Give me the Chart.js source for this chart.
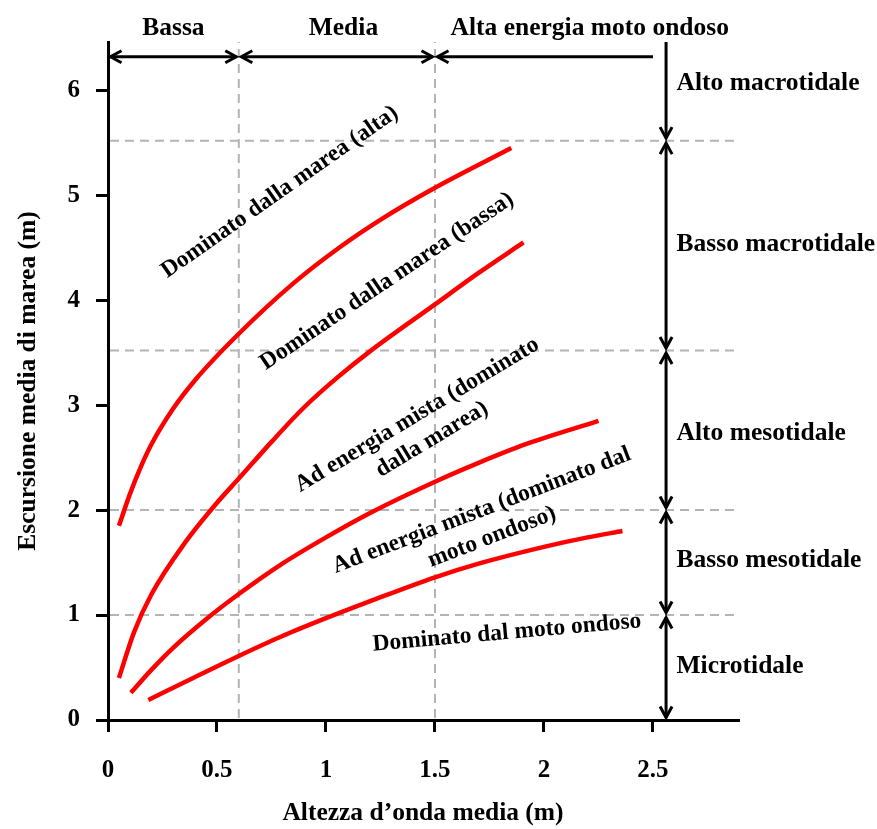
<!DOCTYPE html>
<html><head><meta charset="utf-8">
<script src="https://cdn.jsdelivr.net/npm/chart.js@4.4.1/dist/chart.umd.min.js"></script>
<style>html,body{margin:0;padding:0;background:#fff}canvas{display:block}</style>
</head><body>
<canvas id="c" width="877" height="829"></canvas>
<script>
const FONT = '"Liberation Serif", "Times New Roman", serif';

// ---- axes ----
const xTicks = [0, 0.5, 1, 1.5, 2, 2.5];
const yTicks = [0, 1, 2, 3, 4, 5, 6];
const xMax = 2.89, yMax = 6.46;
const xTitle = 'Altezza d\u2019onda media (m)';
const yTitle = 'Escursione media di marea (m)';

// ---- curves (x = wave height, y = tidal range) ----
const altaX = [0.05, 0.1, 0.15, 0.2, 0.3, 0.4, 0.6, 0.85, 1.06, 1.26, 1.49, 1.85];
const altaY = [1.85, 2.15, 2.41, 2.63, 2.97, 3.24, 3.68, 4.16, 4.5, 4.78, 5.06, 5.45];
const bassaX = [0.05, 0.12, 0.2, 0.35, 0.5, 0.6, 0.75, 0.9, 1.05, 1.2, 1.5, 1.7, 1.906];
const bassaY = [0.40, 0.84, 1.2, 1.68, 2.07, 2.3, 2.65, 2.98, 3.26, 3.51, 3.96, 4.26, 4.55];
const mistaMareaX = [0.105, 0.2, 0.3, 0.45, 0.6, 0.8, 1.0, 1.2, 1.5, 1.7, 1.92, 2.25];
const mistaMareaY = [0.26, 0.48, 0.69, 0.96, 1.2, 1.49, 1.74, 1.97, 2.27, 2.45, 2.63, 2.85];
const mistaOndaX = [0.185, 0.4, 0.6, 0.8, 1.0, 1.2, 1.5, 1.7, 2.0, 2.2, 2.36];
const mistaOndaY = [0.19, 0.41, 0.61, 0.80, 0.97, 1.13, 1.36, 1.49, 1.65, 1.74, 1.80];

// ---- zones ----
const waveZoneBounds = [0, 0.6, 1.5, 2.5];
const waveZoneLabels = ['Bassa', 'Media', 'Alta energia moto ondoso'];
const waveZoneLabelX = [0.3, 1.08, 2.21];
const waveArrowY = 6.32, waveLabelY = 6.59;
const tideZoneBounds = [0, 1, 2, 3.52, 5.52, 6.46];
const tideZoneLabels = ['Microtidale', 'Basso mesotidale', 'Alto mesotidale', 'Basso macrotidale', 'Alto macrotidale'];
const tideZoneLabelY = [0.51, 1.52, 2.73, 4.53, 6.07];
const tideArrowX = 2.56, tideLabelX = 2.608;
const waveGuides = [0.6, 1.5];
const tideGuides = [1, 2, 3.52, 5.52];

// ---- curve labels ----
const curveLabelLines = [
  ['Dominato dalla marea (alta)'],
  ['Dominato dalla marea (bassa)'],
  ['Ad energia mista (dominato', 'dalla marea)'],
  ['Ad energia mista (dominato dal', 'moto ondoso)'],
  ['Dominato dal moto ondoso']
];
const curveLabelX = [0.788, 1.28, 1.452, 1.738, 1.83];
const curveLabelY = [5.03, 4.18, 2.79, 1.87, 0.83];
const curveLabelAngle = [-35, -34, -31, -21, -5];

const toPts = (xs, ys) => xs.map((x, i) => ({x, y: ys[i]}));
const curveStyle = {borderColor: '#ff0000', borderWidth: 4.5, pointRadius: 0, showLine: true,
  cubicInterpolationMode: 'monotone', borderCapStyle: 'butt', fill: false};

function head(ctx, tx, ty, ang, len, half) {
  const c = Math.cos(ang), s = Math.sin(ang);
  ctx.beginPath();
  ctx.moveTo(tx - len * c - half * s, ty - len * s + half * c);
  ctx.lineTo(tx, ty);
  ctx.lineTo(tx - len * c + half * s, ty - len * s - half * c);
  ctx.stroke();
}
function arrow(ctx, x1, y1, x2, y2, hs, he) {
  const a = Math.atan2(y2 - y1, x2 - x1), c = Math.cos(a), s = Math.sin(a), g = 2.5;
  if (hs) { x1 += g * c; y1 += g * s; }
  if (he) { x2 -= g * c; y2 -= g * s; }
  ctx.beginPath(); ctx.moveTo(x1, y1); ctx.lineTo(x2, y2); ctx.stroke();
  if (he) head(ctx, x2, y2, a, 11, 6);
  if (hs) head(ctx, x1, y1, a + Math.PI, 11, 6);
}

const overlay = {
  id: 'overlay',
  beforeDatasetsDraw(chart) {
    const {ctx, chartArea: ca, scales: {x, y}} = chart;
    ctx.save();
    ctx.strokeStyle = '#b4b4b4'; ctx.lineWidth = 2; ctx.setLineDash([9, 6]);
    tideGuides.forEach(v => {
      const py = y.getPixelForValue(v);
      ctx.beginPath(); ctx.moveTo(ca.left + 2, py); ctx.lineTo(ca.right, py); ctx.stroke();
    });
    waveGuides.forEach(v => {
      const px = x.getPixelForValue(v);
      ctx.beginPath(); ctx.moveTo(px, ca.bottom - 2); ctx.lineTo(px, ca.top); ctx.stroke();
    });
    ctx.restore();
  },
  afterDraw(chart) {
    const {ctx, scales: {x, y}} = chart;
    ctx.save();
    ctx.strokeStyle = '#000'; ctx.fillStyle = '#000'; ctx.lineWidth = 3; ctx.lineCap = 'butt';
    const ay = y.getPixelForValue(waveArrowY);
    for (let i = 0; i < waveZoneBounds.length - 1; i++) {
      const last = i === waveZoneBounds.length - 2;
      arrow(ctx, x.getPixelForValue(waveZoneBounds[i]), ay, x.getPixelForValue(waveZoneBounds[i + 1]), ay, true, !last);
    }
    const ax = x.getPixelForValue(tideArrowX);
    for (let i = 0; i < tideZoneBounds.length - 1; i++) {
      const last = i === tideZoneBounds.length - 2;
      arrow(ctx, ax, y.getPixelForValue(tideZoneBounds[i + 1]), ax, y.getPixelForValue(tideZoneBounds[i]), !last, true);
    }
    ctx.font = 'bold 25.5px ' + FONT; ctx.textBaseline = 'middle';
    ctx.textAlign = 'center';
    waveZoneLabels.forEach((t, i) => ctx.fillText(t, x.getPixelForValue(waveZoneLabelX[i]), y.getPixelForValue(waveLabelY)));
    ctx.textAlign = 'left';
    tideZoneLabels.forEach((t, i) => ctx.fillText(t, x.getPixelForValue(tideLabelX), y.getPixelForValue(tideZoneLabelY[i])));
    ctx.font = 'bold 23.5px ' + FONT; ctx.textAlign = 'center';
    curveLabelLines.forEach((lines, i) => {
      ctx.save();
      ctx.translate(x.getPixelForValue(curveLabelX[i]), y.getPixelForValue(curveLabelY[i]));
      ctx.rotate(curveLabelAngle[i] * Math.PI / 180);
      const lh = 28.5;
      lines.forEach((t, k) => ctx.fillText(t, 0, (k - (lines.length - 1) / 2) * lh));
      ctx.restore();
    });
    ctx.restore();
  }
};

const tickFont = {family: FONT, size: 25, weight: 'bold'};
const titleFont = {family: FONT, size: 25.5, weight: 'bold'};
new Chart(document.getElementById('c'), {
  type: 'scatter',
  data: {datasets: [
    {label: 'alta', data: toPts(altaX, altaY), ...curveStyle},
    {label: 'bassa', data: toPts(bassaX, bassaY), ...curveStyle},
    {label: 'mista marea', data: toPts(mistaMareaX, mistaMareaY), ...curveStyle},
    {label: 'mista onda', data: toPts(mistaOndaX, mistaOndaY), ...curveStyle}
  ]},
  options: {
    responsive: false, animation: false,
    layout: {padding: {left: 0, top: 42, right: 139, bottom: 0}},
    plugins: {legend: {display: false}, tooltip: {enabled: false}},
    scales: {
      x: {type: 'linear', min: 0, max: xMax,
        afterFit: s => { s.height = 109; },
        afterBuildTicks: s => { s.ticks = xTicks.map(v => ({value: v})); },
        ticks: {font: tickFont, color: '#000', padding: 24, maxRotation: 0, autoSkip: false, callback: v => String(v)},
        grid: {drawOnChartArea: false, drawTicks: true, tickLength: 12, color: '#000', lineWidth: 3},
        border: {display: true, color: '#000', width: 3},
        title: {display: true, text: xTitle, color: '#000', font: titleFont, padding: {top: 0, bottom: 0}}
      },
      y: {type: 'linear', min: 0, max: yMax,
        afterFit: s => { s.width = 108; },
        afterBuildTicks: s => { s.ticks = yTicks.map(v => ({value: v})); },
        ticks: {font: tickFont, color: '#000', padding: 16, autoSkip: false, callback: v => String(v)},
        grid: {drawOnChartArea: false, drawTicks: true, tickLength: 12, color: '#000', lineWidth: 3},
        border: {display: true, color: '#000', width: 3},
        title: {display: true, text: yTitle, color: '#000', font: titleFont, padding: {top: 13, bottom: 0}}
      }
    }
  },
  plugins: [overlay]
});
</script>
</body></html>
